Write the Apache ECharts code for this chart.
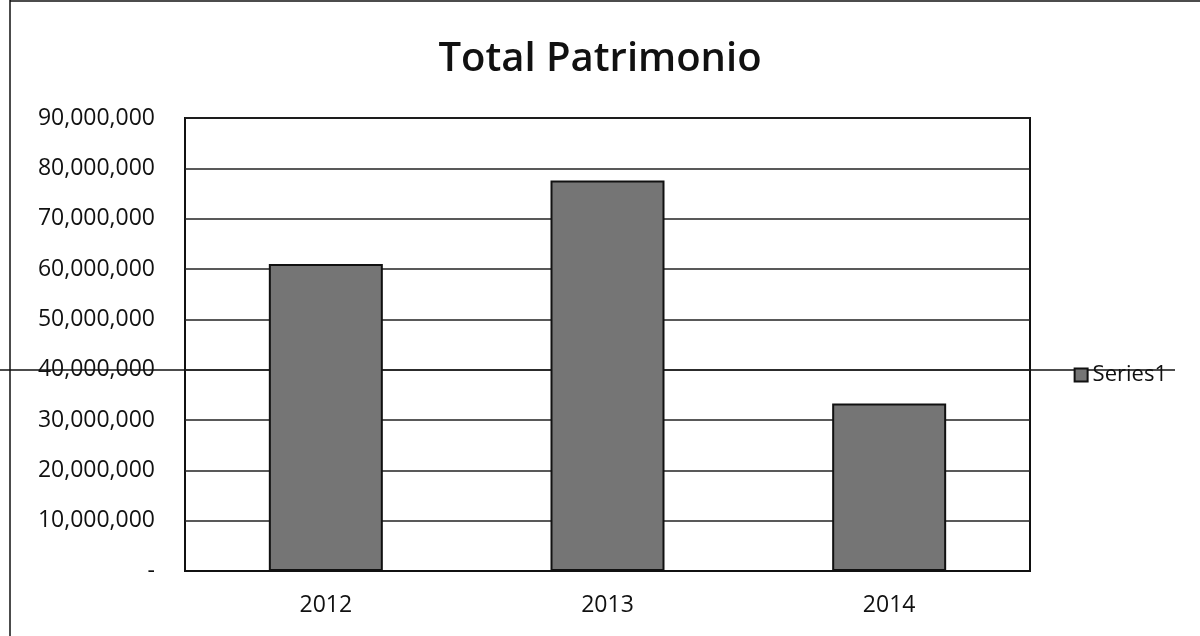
<!DOCTYPE html>
<html><head><meta charset="utf-8">
<script src="https://cdn.jsdelivr.net/npm/echarts@6/dist/echarts.min.js"></script>
<style>html,body{margin:0;padding:0;background:#fff}#c{width:1200px;height:636px}</style>
</head><body><div id="c"></div>
<script>
const categories = ['2012', '2013', '2014'];
const seriesName = 'Series1';
const values = [61000000, 77600000, 33300000];
const yMin = 0, yMax = 90000000, yStep = 10000000;

function fmt(v){
  if (v === 0) return '-';
  return String(v).replace(/\B(?=(\d{3})+(?!\d))/g, ',');
}

const chart = echarts.init(document.getElementById('c'));
chart.setOption({
  animation: false,
  backgroundColor: '#fff',
  title: {
    text: 'Total Patrimonio', left: 'center', top: 35,
    textStyle: {fontFamily: 'Open Sans', fontSize: 40, fontWeight: 600, color: '#111'}
  },
  legend: {
    data: [seriesName], right: 28, top: 359, itemWidth: 13, itemHeight: 13,
    icon: 'rect', itemGap: 5,
    textStyle: {fontFamily: 'Open Sans', fontSize: 22, color: '#111'}
  },
  grid: {left: 185, right: 170, top: 118, bottom: 65, show: true, borderColor: '#111', borderWidth: 2, backgroundColor: '#fff'},
  xAxis: {
    type: 'category', data: categories,
    axisLine: {lineStyle: {color: '#111', width: 2}},
    axisTick: {show: false},
    axisLabel: {fontFamily: 'Open Sans', fontSize: 23, color: '#111', margin: 23}
  },
  yAxis: {
    type: 'value', min: yMin, max: yMax, interval: yStep,
    axisLine: {show: false}, axisTick: {show: false},
    splitLine: {lineStyle: {color: '#222', width: 1.5}},
    axisLabel: {fontFamily: 'Open Sans', fontSize: 23, color: '#111', margin: 30, formatter: fmt}
  },
  series: [{
    name: seriesName, type: 'bar', data: values, barWidth: 114,
    itemStyle: {color: '#757575', borderColor: '#111', borderWidth: 2}
  }],
  graphic: [
    {type: 'line', shape: {x1: 0, y1: 370, x2: 1175, y2: 370}, style: {stroke: '#111', lineWidth: 1.5}, z: 0},
    {type: 'line', shape: {x1: 10, y1: 0, x2: 10, y2: 636}, style: {stroke: '#111', lineWidth: 1.5}},
    {type: 'line', shape: {x1: 10, y1: 1, x2: 1200, y2: 1}, style: {stroke: '#111', lineWidth: 1.5}}
  ]
});
</script></body></html>
